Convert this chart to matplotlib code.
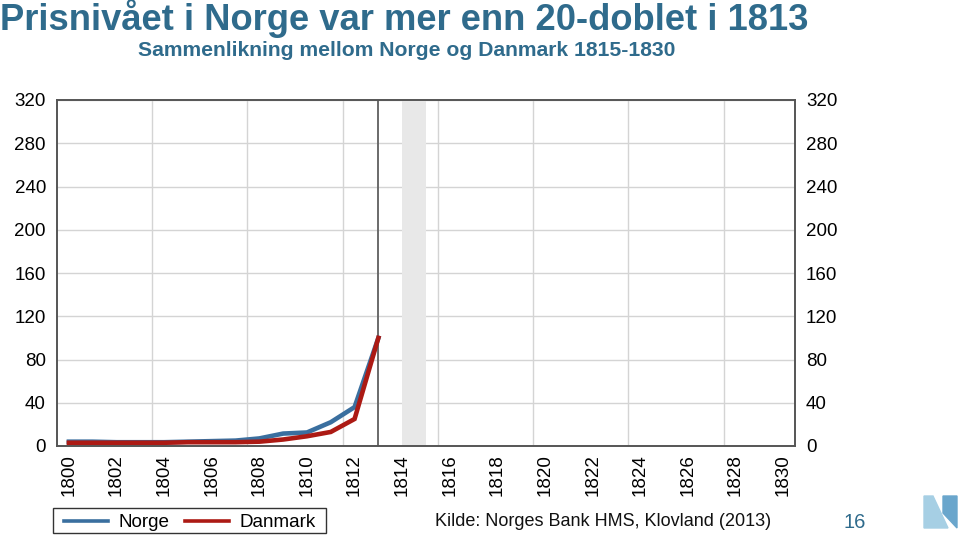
import numpy as np
import matplotlib.pyplot as plt
from matplotlib.lines import Line2D
from matplotlib.patches import Polygon, Rectangle

plt.rcParams['font.family'] = ['Liberation Sans', 'DejaVu Sans']

# data: price level, 1813 = 100
years = list(range(1800, 1814))
norge = [4, 4, 3.5, 3.5, 3.5, 4, 4.5, 5, 7, 11.5, 12.5, 22, 36, 100]
danmark = [3, 3, 3, 3, 3, 3.5, 3.5, 3.5, 4, 6, 9, 13, 25, 100]
xtick_years = list(range(1800, 1831, 2))
yticks = list(range(0, 321, 40))
shade = (1814, 1815)

title_col = '#2f6b8c'
blue = '#3a6f9f'
red = '#ac1a14'

fig = plt.figure(figsize=(9.6, 5.35), dpi=100)
ax = fig.add_axes([57 / 960, 89 / 535, 738 / 960, 346 / 535])

ax.set_xlim(1799.5, 1830.5)
ax.set_ylim(0, 320)

# grid: horizontal every 40, vertical every 4 years on category edges
for y in yticks:
    ax.axhline(y, color='#d4d4d4', lw=1, zorder=0)
for gx in np.arange(1803.5, 1830, 4):
    ax.axvline(gx, color='#d4d4d4', lw=1, zorder=0)
ax.axvspan(shade[0], shade[1], color='#e8e8e8', lw=0, zorder=0.5)
ax.axvline(1813, color='#6a6a6a', lw=1.4, zorder=1)

ax.plot(years, norge, color=blue, lw=3.3, zorder=3, solid_joinstyle='miter')
ax.plot(years, danmark, color=red, lw=3.3, zorder=4, solid_joinstyle='miter')

for s in ax.spines.values():
    s.set_color('#555555')
    s.set_linewidth(1.4)

ax.set_xticks(xtick_years)
ax.set_xticklabels([str(y) for y in xtick_years], rotation=90, fontsize=13.5)
ax.set_yticks(yticks)
ax.tick_params(axis='y', length=0, labelsize=13.5)
ax.tick_params(axis='x', length=0, pad=6)
ax.tick_params(axis='y', pad=8, labelright=True, right=False)

fig.text(0.0, 535 - 18, 'Prisnivået i Norge var mer enn 20-doblet i 1813',
         transform=None, fontsize=26.2, fontweight='bold', color=title_col,
         va='center', ha='left')
fig.text(407 / 960, 1 - 50 / 535, 'Sammenlikning mellom Norge og Danmark 1815-1830',
         fontsize=15.2, fontweight='bold', color=title_col, va='center', ha='center')

# legend without its own frame, box drawn separately
handles = [Line2D([], [], color=blue, lw=2.6), Line2D([], [], color=red, lw=2.6)]
leg = fig.legend(handles, ['Norge', 'Danmark'], ncol=2, loc='center left',
                 bbox_to_anchor=(64 / 960, 1 - 522.5 / 535), fontsize=13.6,
                 frameon=False, handlelength=2.33, columnspacing=0.85,
                 borderpad=0, handletextpad=0.53, borderaxespad=0)
fig.patches.append(Rectangle((52.5 / 960, 1 - 533 / 535), 273.5 / 960, 25 / 535,
                             transform=fig.transFigure, fill=False,
                             edgecolor='#333333', lw=1.0))

fig.text(603 / 960, 1 - 521 / 535, 'Kilde: Norges Bank HMS, Klovland (2013)',
         fontsize=13, va='center', ha='center', color='#111111')
fig.text(855 / 960, 1 - 522 / 535, '16', fontsize=14.5, va='center', ha='center',
         color=title_col)

# logo
def px(pts):
    return [(x / 960, 1 - y / 535) for x, y in pts]

fig.patches.append(Polygon(px([(924, 496), (933, 496), (948, 528), (924, 528)]),
                           closed=True, color='#a6cfe4', transform=fig.transFigure))
fig.patches.append(Polygon(px([(943, 496), (957, 496), (957, 528), (943, 513)]),
                           closed=True, color='#6aa6cc', transform=fig.transFigure))

fig.savefig('out.png', dpi=100)
